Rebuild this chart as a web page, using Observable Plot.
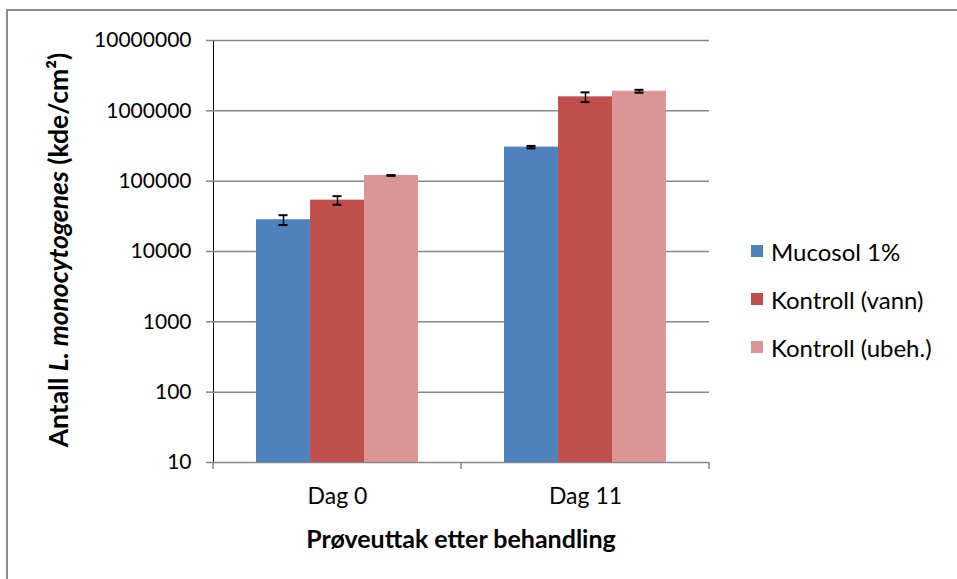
<!DOCTYPE html>
<html><head><meta charset="utf-8">
<script src="https://cdn.jsdelivr.net/npm/d3@7"></script>
<script src="https://cdn.jsdelivr.net/npm/@observablehq/plot@0.6"></script>
<style>
body{margin:0;background:#fff;font-family:Lato,sans-serif;color:#000;}
#wrap{position:relative;width:957px;height:579px;overflow:hidden;}
#border{position:absolute;left:6px;top:9px;width:1000px;height:1000px;border:2px solid #8c8c8c;}
#chart{position:absolute;left:0;top:0;}
#legend{position:absolute;left:751px;top:238px;font-size:24px;}
#legend .row{display:flex;align-items:center;height:26px;margin-bottom:22px;}
#legend .sw{width:12px;height:12px;margin-right:8px;}
#ytitle{position:absolute;left:58px;top:250px;transform:translate(-50%,-50%) rotate(-90deg);white-space:nowrap;font-weight:bold;font-size:26.5px;}
#xtitle{position:absolute;left:461px;top:538px;transform:translate(-50%,-50%);white-space:nowrap;font-weight:bold;font-size:25px;}
</style></head><body>
<div id="wrap"><div id="border"></div><div id="chart"></div><div id="legend"></div>
<div id="ytitle">Antall <i>L. monocytogenes</i> (kde/cm²)</div>
<div id="xtitle">Prøveuttak etter behandling</div>
</div>
<script>
const days = ["Dag 0", "Dag 11"];
const series = ["Mucosol 1%", "Kontroll (vann)", "Kontroll (ubeh.)"];
const colors = ["#4F81BD", "#C0504D", "#D99694"];
const dag0Values = [28300, 53700, 120500];
const dag0Errors = [4500, 7500, 1500];
const dag11Values = [305000, 1580000, 1900000];
const dag11Errors = [12000, 250000, 90000];
const yTicks = [10, 100, 1000, 10000, 100000, 1000000, 10000000];

const rows = [];
[[dag0Values, dag0Errors], [dag11Values, dag11Errors]].forEach(([vals, errs], i) => {
  series.forEach((s, j) => rows.push({day: days[i], series: s, value: vals[j], lo: vals[j] - errs[j], hi: vals[j] + errs[j]}));
});

const W = 957, H = 579;
const chart = Plot.plot({
  width: W, height: H,
  marginLeft: 213, marginRight: 248, marginTop: 40, marginBottom: 117,
  style: {fontFamily: "Lato, sans-serif", fontSize: "21px", color: "#000", background: "transparent", overflow: "visible"},
  facet: {data: rows, x: "day"},
  fx: {domain: days, padding: 0, axis: "bottom", tickSize: 0, tickPadding: 25, label: null},
  x: {domain: series, axis: null, paddingInner: 0, paddingOuter: 0.755},
  y: {type: "log", domain: [10, 1e7], ticks: yTicks, tickFormat: d => String(d), tickSize: 7, tickPadding: 15, line: true, label: null},
  color: {domain: series, range: colors},
  marks: [
    Plot.ruleY(yTicks, {stroke: "#868686", strokeWidth: 1.5}),
    Plot.barY(rows, {x: "series", y1: 10, y2: "value", fill: "series"}),
    Plot.ruleX(rows, {x: "series", y1: "lo", y2: "hi", stroke: "#000", strokeWidth: 1.5}),
    Plot.tickY(rows, {x: "series", y: "lo", stroke: "#000", strokeWidth: 2, insetLeft: 22.5, insetRight: 22.5}),
    Plot.tickY(rows, {x: "series", y: "hi", stroke: "#000", strokeWidth: 2, insetLeft: 22.5, insetRight: 22.5})
  ]
});
document.getElementById("chart").appendChild(chart);

const svg = d3.select(chart.tagName.toLowerCase() === "svg" ? chart : chart.querySelector("svg"));
svg.selectAll('[aria-label^="y-axis"] line, [aria-label^="y-axis"] path').attr("stroke", "#868686").attr("stroke-width", 1.5);
svg.selectAll('[aria-label^="fx-axis"] text').attr("font-size", "23px").style("font-size", "23px");

// x-axis tick marks at the category boundaries, from the fx scale
const fxs = chart.scale("fx");
const ys = chart.scale("y");
const band = d3.scaleBand().domain(fxs.domain).range(fxs.range)
  .paddingInner(fxs.paddingInner ?? 0).paddingOuter(fxs.paddingOuter ?? 0).align(fxs.align ?? 0.5);
const edges = Array.from(new Set(fxs.domain.flatMap(d => [band(d), band(d) + band.bandwidth()])));
const yBase = d3.scaleLog().domain(ys.domain).range(ys.range)(10);
svg.append("g").selectAll("line").data(edges).join("line")
  .attr("x1", d => d).attr("x2", d => d).attr("y1", yBase).attr("y2", yBase + 7)
  .attr("stroke", "#868686").attr("stroke-width", 1.5);

const legend = d3.select("#legend");
series.forEach((s, i) => {
  const r = legend.append("div").attr("class", "row");
  r.append("div").attr("class", "sw").style("background", colors[i]);
  r.append("span").text(s);
});
</script>
</body></html>
